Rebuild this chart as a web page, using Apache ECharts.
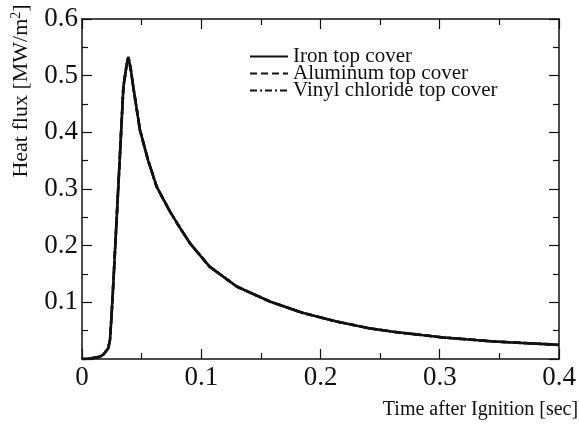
<!DOCTYPE html>
<html>
<head>
<meta charset="utf-8">
<script src="https://cdn.jsdelivr.net/npm/echarts@6/dist/echarts.min.js"></script>
<style>
  html, body { margin: 0; padding: 0; background: #fff; }
  #heatChart { width: 579px; height: 429px; }
</style>
</head>
<body>
<div id="heatChart"></div>
<script>
// time after ignition [sec]
var timeSec = [0, 0.005, 0.01, 0.015, 0.018, 0.022, 0.0235, 0.0249, 0.0263, 0.029, 0.0319, 0.0347,
    0.0375, 0.0389, 0.041, 0.043, 0.0486, 0.0555, 0.0626, 0.0738, 0.082, 0.0906, 0.107, 0.1297,
    0.158, 0.1856, 0.2136, 0.2415, 0.261, 0.303, 0.345, 0.4];
// heat flux [MW/m2] - the three covers give practically the same curve
var ironFlux = [0, 0.0005, 0.002, 0.004, 0.008, 0.019, 0.034, 0.081, 0.135, 0.245, 0.363, 0.48,
    0.52, 0.533, 0.51, 0.48, 0.404, 0.35, 0.304, 0.26, 0.232, 0.204, 0.163, 0.128,
    0.101, 0.081, 0.066, 0.054, 0.048, 0.038, 0.031, 0.025];
var aluminumFlux = [0, 0.0005, 0.002, 0.004, 0.008, 0.019, 0.034, 0.081, 0.135, 0.245, 0.363, 0.48,
    0.52, 0.533, 0.51, 0.48, 0.404, 0.35, 0.304, 0.26, 0.232, 0.204, 0.163, 0.128,
    0.101, 0.081, 0.066, 0.054, 0.048, 0.038, 0.031, 0.025];
var vinylFlux = [0, 0.0005, 0.002, 0.004, 0.008, 0.019, 0.034, 0.081, 0.135, 0.245, 0.363, 0.48,
    0.52, 0.533, 0.51, 0.48, 0.404, 0.35, 0.304, 0.26, 0.232, 0.204, 0.163, 0.128,
    0.101, 0.081, 0.066, 0.054, 0.048, 0.038, 0.031, 0.025];
var seriesNames = ['Iron top cover', 'Aluminum top cover', 'Vinyl chloride top cover'];

function pairs(ys) {
    return timeSec.map(function (t, i) { return [t, ys[i]]; });
}

var font = 'Liberation Serif';
var black = '#111';

function mkLine(name, ys, dash) {
    return {
        name: name,
        type: 'line',
        xAxisIndex: 0,
        yAxisIndex: 0,
        symbol: 'none',
        smooth: false,
        lineStyle: { color: black, width: 2.6, type: dash },
        itemStyle: { color: black },
        data: pairs(ys)
    };
}

// 轴
function xAx(pos, showLabel) {
    return {
        type: 'value',
        position: pos,
        min: 0,
        max: 0.4,
        interval: 0.1,
        axisLine: { show: true, onZero: false, lineStyle: { color: black, width: 1.5 } },
        axisTick: { show: true, inside: true, length: 10, lineStyle: { color: black, width: 1.2 } },
        minorTick: { show: true, splitNumber: 2, length: 6, lineStyle: { color: black, width: 1.2 } },
        splitLine: { show: false },
        axisLabel: {
            show: showLabel,
            fontFamily: font,
            fontSize: 27,
            color: black,
            margin: 5,
            formatter: function (v) { return v === 0 ? '0' : v.toFixed(1); }
        }
    };
}
function yAx(pos, showLabel) {
    return {
        type: 'value',
        position: pos,
        min: 0,
        max: 0.6,
        interval: 0.1,
        axisLine: { show: true, onZero: false, lineStyle: { color: black, width: 1.5 } },
        axisTick: { show: true, inside: true, length: 10, lineStyle: { color: black, width: 1.2 } },
        minorTick: { show: true, splitNumber: 2, length: 6, lineStyle: { color: black, width: 1.2 } },
        splitLine: { show: false },
        axisLabel: {
            show: showLabel,
            fontFamily: font,
            fontSize: 27,
            color: black,
            margin: 4,
            formatter: function (v) { return v === 0 ? '' : v.toFixed(1); }
        }
    };
}

var xMain = xAx('bottom', true);
xMain.name = 'Time after Ignition [sec]';
xMain.nameLocation = 'middle';
xMain.nameGap = 41;
xMain.nameTextStyle = { fontFamily: font, fontSize: 20, color: black, padding: [0, 0, 0, 320] };

var yMain = yAx('left', true);
yMain.name = 'Heat flux [MW/m{sup|2}]';
yMain.nameLocation = 'middle';
yMain.nameGap = 49;
yMain.nameTextStyle = {
    fontFamily: font, fontSize: 22, color: black, padding: [0, 0, 0, 196],
    rich: { sup: { fontFamily: font, fontSize: 14, color: black, verticalAlign: 'top', padding: [0, 0, 10, 0] } }
};

var option = {
    backgroundColor: '#fff',
    animation: false,
    grid: { left: 82, right: 20, top: 19, bottom: 70, outerBoundsMode: 'none' },
    legend: {
        orient: 'vertical',
        left: 244,
        top: 41,
        itemWidth: 38,
        itemHeight: 10,
        itemGap: -4,
        itemStyle: { color: 'rgba(0,0,0,0)', borderWidth: 0 },
        lineStyle: { color: black, width: 2 },
        textStyle: { fontFamily: font, fontSize: 21, color: black },
        data: seriesNames
    },
    xAxis: [xMain, xAx('top', false)],
    yAxis: [yMain, yAx('right', false)],
    series: [
        mkLine(seriesNames[0], ironFlux, 'solid'),
        mkLine(seriesNames[1], aluminumFlux, [7, 4]),
        mkLine(seriesNames[2], vinylFlux, [7, 3, 2, 3])
    ]
};

var heatChart = echarts.init(document.getElementById('heatChart'));
heatChart.setOption(option, true);
window.addEventListener('resize', function () {
    heatChart.resize();
});
</script>
</body>
</html>
